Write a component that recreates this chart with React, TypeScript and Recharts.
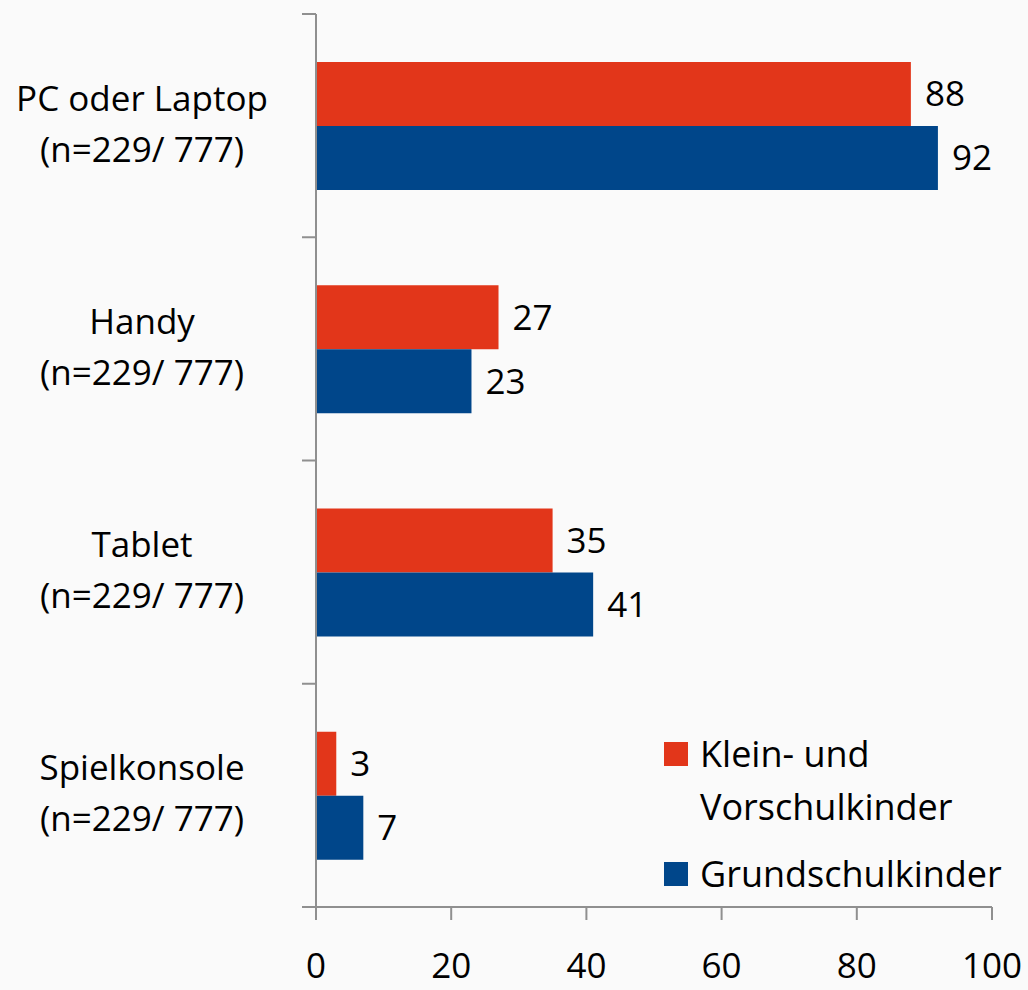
import React from "react";
import { BarChart, Bar, XAxis, YAxis, LabelList } from "recharts";

const categories = ["PC oder Laptop", "Handy", "Tablet", "Spielkonsole"];
const sampleLabels = ["(n=229/ 777)", "(n=229/ 777)", "(n=229/ 777)", "(n=229/ 777)"];
const kleinValues = [88, 27, 35, 3];
const grundValues = [92, 23, 41, 7];
const seriesNames = ["Klein- und Vorschulkinder", "Grundschulkinder"];
const seriesColors = ["#E2361A", "#00468A"];
const xTicks = [0, 20, 40, 60, 80, 100];

const data = categories.map((c, i) => ({
  name: c,
  sub: sampleLabels[i],
  klein: kleinValues[i],
  grund: grundValues[i],
}));

const FONT = "'Open Sans', 'Noto Sans', sans-serif";
const AXIS = "#8f8f8f";
const W = 1028;
const H = 990;
const XH = 83;
const M = { top: 14, right: 36, bottom: 0, left: 0 };
const YW = 316;
const BAND = (H - M.top - XH) / categories.length;
const FS = 35;

const YTick = (props: any) => {
  const { payload, index } = props;
  const cy = payload.coordinate;
  const half = payload.offset ? payload.offset : BAND / 2;
  const d = data[index] || data.find((r) => r.name === payload.value);
  return (
    <g>
      <line x1={YW - 14} x2={YW} y1={cy - half} y2={cy - half} stroke={AXIS} strokeWidth={2} />
      {index === categories.length - 1 && (
        <line x1={YW - 14} x2={YW} y1={cy + half} y2={cy + half} stroke={AXIS} strokeWidth={2} />
      )}
      <text x={142} y={cy - 15} textAnchor="middle" fontSize={FS} fontFamily={FONT} fill="#000">
        {payload.value}
      </text>
      <text x={142} y={cy + 36} textAnchor="middle" fontSize={FS} fontFamily={FONT} fill="#000">
        {d ? d.sub : ""}
      </text>
    </g>
  );
};

export default function App() {
  return (
    <div style={{ position: "absolute", left: 0, top: 0, width: W, height: H, background: "#fafafa" }}>
      <BarChart
        width={W}
        height={H}
        data={data}
        layout="vertical"
        margin={M}
        barCategoryGap="21.5%"
        barGap={0}
      >
        <XAxis
          type="number"
          domain={[0, 100]}
          ticks={xTicks}
          interval={0}
          height={XH}
          axisLine={{ stroke: AXIS, strokeWidth: 2 }}
          tickLine={{ stroke: AXIS, strokeWidth: 2 }}
          tickSize={13}
          tickMargin={33}
          tick={{ fontSize: FS, fontFamily: FONT, fill: "#000" }}
        />
        <YAxis
          type="category"
          dataKey="name"
          width={YW}
          axisLine={{ stroke: AXIS, strokeWidth: 2 }}
          tickLine={false}
          tick={<YTick />}
          interval={0}
        />
        <Bar dataKey="klein" name={seriesNames[0]} fill={seriesColors[0]} isAnimationActive={false}>
          <LabelList dataKey="klein" position="right" offset={14} fontSize={FS} fontFamily={FONT} fill="#000" />
        </Bar>
        <Bar dataKey="grund" name={seriesNames[1]} fill={seriesColors[1]} isAnimationActive={false}>
          <LabelList dataKey="grund" position="right" offset={14} fontSize={FS} fontFamily={FONT} fill="#000" />
        </Bar>
      </BarChart>
      <div
        style={{
          position: "absolute",
          left: 664,
          top: 727,
          fontFamily: FONT,
          fontSize: 36,
          color: "#000",
          lineHeight: "53px",
        }}
      >
        <div style={{ display: "flex", alignItems: "flex-start" }}>
          <div style={{ width: 24, height: 24, background: seriesColors[0], marginTop: 15, marginRight: 12 }} />
          <div>
            <div>Klein- und</div>
            <div>Vorschulkinder</div>
          </div>
        </div>
        <div style={{ display: "flex", alignItems: "flex-start", marginTop: 14 }}>
          <div style={{ width: 24, height: 24, background: seriesColors[1], marginTop: 15, marginRight: 12 }} />
          <div style={{ whiteSpace: "nowrap" }}>{seriesNames[1]}</div>
        </div>
      </div>
    </div>
  );
}
